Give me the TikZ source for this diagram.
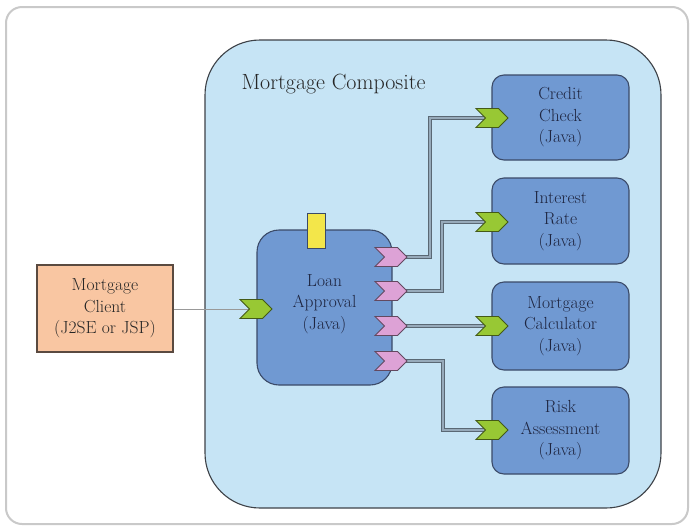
\documentclass[tikz,border=0pt]{standalone}
\usetikzlibrary{shapes.symbols}
\pgfdeclarelayer{back}
\pgfdeclarelayer{mid}
\pgfsetlayers{back,mid,main}

\definecolor{frameC}{HTML}{C9C9C9}
\definecolor{compFill}{HTML}{C6E4F5}
\definecolor{compLine}{HTML}{3E4248}
\definecolor{boxFill}{HTML}{7099D2}
\definecolor{boxLine}{HTML}{3B4A68}
\definecolor{boxText}{HTML}{1E2540}
\definecolor{clientFill}{HTML}{F9C6A2}
\definecolor{clientLine}{HTML}{5A4A40}
\definecolor{svcIn}{HTML}{98C834}
\definecolor{refOut}{HTML}{DDA2D6}
\definecolor{yellowC}{HTML}{F3E64A}
\definecolor{wireOut}{HTML}{5A6874}
\definecolor{wireIn}{HTML}{97AABA}

\tikzset{
  lbl/.style={font=\fontsize{17.5}{21.5}\selectfont},
  svcbox/.style={draw=boxLine, line width=1.1pt, fill=boxFill, rounded corners=12pt,
    minimum width=137pt, minimum height=86pt, align=center, text=boxText, lbl},
  chev/.style={signal, signal to=east, signal from=west, draw=#1!45!black, line width=0.9pt,
    fill=#1, minimum width=32pt, minimum height=19pt, inner sep=0pt},
  wire/.style={draw=wireOut, line width=1pt, double=wireIn, double distance=1.4pt},
}

\begin{document}
\begin{tikzpicture}[x=1pt, y=-1pt]
\useasboundingbox (0,0) rectangle (691,528);

\begin{pgfonlayer}{back}
\fill[white] (0,0) rectangle (691,528);
% outer frame
\draw[frameC, line width=2pt, rounded corners=16pt] (6,7) rectangle (688,524);
% composite container
\node[draw=compLine, line width=1.1pt, fill=compFill, rounded corners=55pt,
      minimum width=456pt, minimum height=468pt, inner sep=0pt] (comp) at (433,274) {};
\end{pgfonlayer}
\node[anchor=west, text=black!85, font=\fontsize{22}{26}\selectfont] (title) at (238,84) {Mortgage Composite};

% client
\node[draw=clientLine, line width=1.2pt, fill=clientFill, minimum width=136pt, minimum height=87pt,
      align=center, text=black!85, lbl] (client) at (105,308.5) {Mortgage\\Client\\(J2SE or JSP)};

% loan approval component
\node[svcbox, minimum width=135pt, minimum height=155pt, rounded corners=22pt] (loan) at (324.5,307.5) {};
\node[align=center, text=boxText, lbl] (loantxt) at (324.5,304) {Loan\\Approval\\(Java)};
\node[draw=boxLine, line width=0.9pt, fill=yellowC, minimum width=18pt, minimum height=35pt, inner sep=0pt] (prop) at (316,230.5) {};

% services
\node[svcbox, minimum height=85pt] (credit) at (560.5,117.5) {Credit\\Check\\(Java)};
\node[svcbox] (rate) at (560.5,221) {Interest\\Rate\\(Java)};
\node[svcbox, minimum height=88pt] (calc) at (560.5,326) {Mortgage\\Calculator\\(Java)};
\node[svcbox, minimum height=87pt] (risk) at (560.5,430.5) {Risk\\Assessment\\(Java)};

% service interfaces
\node[chev=svcIn] (gin) at (256,309) {};
\node[chev=svcIn] (g1) at (492,118) {};
\node[chev=svcIn] (g2) at (492,222) {};
\node[chev=svcIn] (g3) at (492,326) {};
\node[chev=svcIn] (g4) at (492,430) {};

% references
\node[chev=refOut] (p1) at (391,257) {};
\node[chev=refOut] (p2) at (391,291) {};
\node[chev=refOut] (p3) at (391,326) {};
\node[chev=refOut] (p4) at (391,361) {};

% wires
\begin{pgfonlayer}{mid}
\draw[black!40, line width=0.8pt] (client.east |- gin) -- (gin.center);
\draw[wire] (p1.center) -- (430,257) -- (430,118) -- (g1.center);
\draw[wire] (p2.center) -- (442,291) -- (442,222) -- (g2.center);
\draw[wire] (p3.center) -- (g3.center);
\draw[wire] (p4.center) -- (443,361) -- (443,430) -- (g4.center);
\end{pgfonlayer}
\end{tikzpicture}
\end{document}
